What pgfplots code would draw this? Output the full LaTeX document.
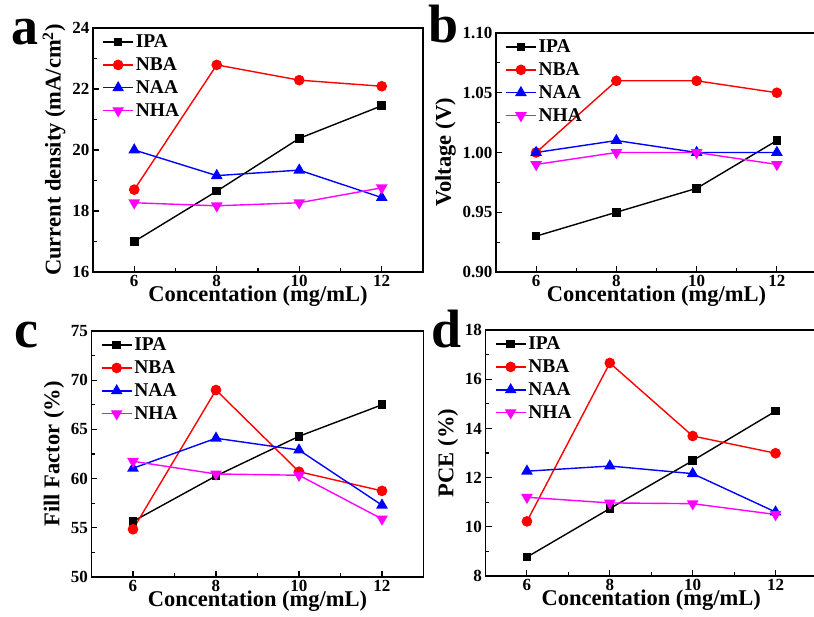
\documentclass[border=0pt]{standalone}
\usepackage{pgfplots}
\pgfplotsset{compat=1.18}
\usepackage{fontspec}
\setmainfont{Liberation Serif}
\definecolor{cIPA}{RGB}{0,0,0}
\definecolor{cNBA}{RGB}{255,0,0}
\definecolor{cNAA}{RGB}{0,0,255}
\definecolor{cNHA}{RGB}{255,0,255}
\pgfplotsset{
  myax/.style={
    scale only axis,
    xmin=5, xmax=13,
    xtick={6,8,10,12},
    minor x tick num=1,
    minor y tick num=1,
    axis line style={line width=1.7pt},
    tick style={line width=1.1pt, black},
    major tick length=6pt,
    minor tick length=3.5pt,
    tick align=inside,
    xtick pos=bottom,
    ytick pos=left,
    /pgf/number format/assume math mode=true,
    tick label style={font=\fontsize{17}{17}\selectfont\bfseries},
    label style={font=\fontsize{22.5}{22.5}\selectfont\bfseries},
    xlabel={Concentation (mg/mL)},
    xlabel style={yshift=8pt},
    legend style={at={(0.025,0.985)}, anchor=north west, draw=none, fill=none,
      font=\fontsize{19.5}{19.5}\selectfont\bfseries, row sep=4.5pt, inner sep=1pt},
    legend cell align=left,
    legend image code/.code={\draw[mark repeat=2,mark phase=2,##1] plot coordinates {(0pt,0pt) (15pt,0pt) (30pt,0pt)};},
  },
  sIPA/.style={cIPA, line width=1.4pt, mark=square*, mark size=3.6pt, mark options={solid, fill=cIPA}},
  sNBA/.style={cNBA, line width=1.4pt, mark=*, mark size=4.6pt, mark options={solid, fill=cNBA}},
  sNAA/.style={cNAA, line width=1.4pt, mark=triangle*, mark size=5.4pt, mark options={solid, fill=cNAA}},
  sNHA/.style={cNHA, line width=1.4pt, mark=triangle*, mark size=5.4pt, mark options={solid, fill=cNHA, rotate=180}},
}
\begin{document}
\begin{tikzpicture}[x=1pt,y=1pt]
\useasboundingbox (0,0) rectangle (814,617);
\clip (0,0) rectangle (814,617);
% panel a
\begin{axis}[myax, at={(93pt,345pt)}, anchor=south west, width=330pt, height=244pt,
  ymin=16, ymax=24, ytick={16,18,20,22,24},
  ylabel={Current density (mA/cm$^\mathbf{2}$)}]
\addplot[sIPA] coordinates {(6,17.0) (8,18.65) (10,20.38) (12,21.45)};
\addplot[sNBA] coordinates {(6,18.7) (8,22.79) (10,22.29) (12,22.09)};
\addplot[sNAA] coordinates {(6,20.0) (8,19.16) (10,19.34) (12,18.44)};
\addplot[sNHA] coordinates {(6,18.27) (8,18.17) (10,18.27) (12,18.76)};
\legend{IPA,NBA,NAA,NHA}
\end{axis}
% panel b
\begin{axis}[myax, at={(496pt,345pt)}, anchor=south west, width=321pt, height=239pt,
  ymin=0.90, ymax=1.10, ytick={0.90,0.95,1.00,1.05,1.10},
  yticklabel style={/pgf/number format/.cd, fixed, fixed zerofill, precision=2},
  ylabel={Voltage (V)}]
\addplot[sIPA] coordinates {(6,0.93) (8,0.95) (10,0.97) (12,1.01)};
\addplot[sNBA] coordinates {(6,1.00) (8,1.06) (10,1.06) (12,1.05)};
\addplot[sNAA] coordinates {(6,1.00) (8,1.01) (10,1.00) (12,1.00)};
\addplot[sNHA] coordinates {(6,0.99) (8,1.00) (10,1.00) (12,0.99)};
\legend{IPA,NBA,NAA,NHA}
\end{axis}
% panel c
\begin{axis}[myax, at={(91.5pt,40pt)}, anchor=south west, width=332pt, height=246pt,
  ymin=50, ymax=75, ytick={50,55,60,65,70,75},
  ylabel={Fill Factor (\%)}]
\addplot[sIPA] coordinates {(6,55.65) (8,60.27) (10,64.3) (12,67.5)};
\addplot[sNBA] coordinates {(6,54.85) (8,69.0) (10,60.7) (12,58.75)};
\addplot[sNAA] coordinates {(6,61.05) (8,64.1) (10,62.9) (12,57.3)};
\addplot[sNHA] coordinates {(6,61.76) (8,60.47) (10,60.34) (12,55.9)};
\legend{IPA,NBA,NAA,NHA}
\end{axis}
% panel d
\begin{axis}[myax, at={(485.5pt,41pt)}, anchor=south west, width=331.5pt, height=246pt,
  ymin=8, ymax=18, ytick={8,10,12,14,16,18},
  ylabel={PCE (\%)}]
\addplot[sIPA] coordinates {(6,8.77) (8,10.74) (10,12.69) (12,14.70)};
\addplot[sNBA] coordinates {(6,10.22) (8,16.66) (10,13.69) (12,12.99)};
\addplot[sNAA] coordinates {(6,12.26) (8,12.47) (10,12.16) (12,10.6)};
\addplot[sNHA] coordinates {(6,11.2) (8,10.97) (10,10.94) (12,10.5)};
\legend{IPA,NBA,NAA,NHA}
\end{axis}
\node[anchor=base west, inner sep=0pt, font=\fontsize{54}{54}\selectfont\bfseries] at (11,572) {a};
\node[anchor=base west, inner sep=0pt, font=\fontsize{54}{54}\selectfont\bfseries] at (428,574) {b};
\node[anchor=base west, inner sep=0pt, font=\fontsize{54}{54}\selectfont\bfseries] at (14,269) {c};
\node[anchor=base west, inner sep=0pt, font=\fontsize{54}{54}\selectfont\bfseries] at (431,269) {d};
\end{tikzpicture}
\end{document}
